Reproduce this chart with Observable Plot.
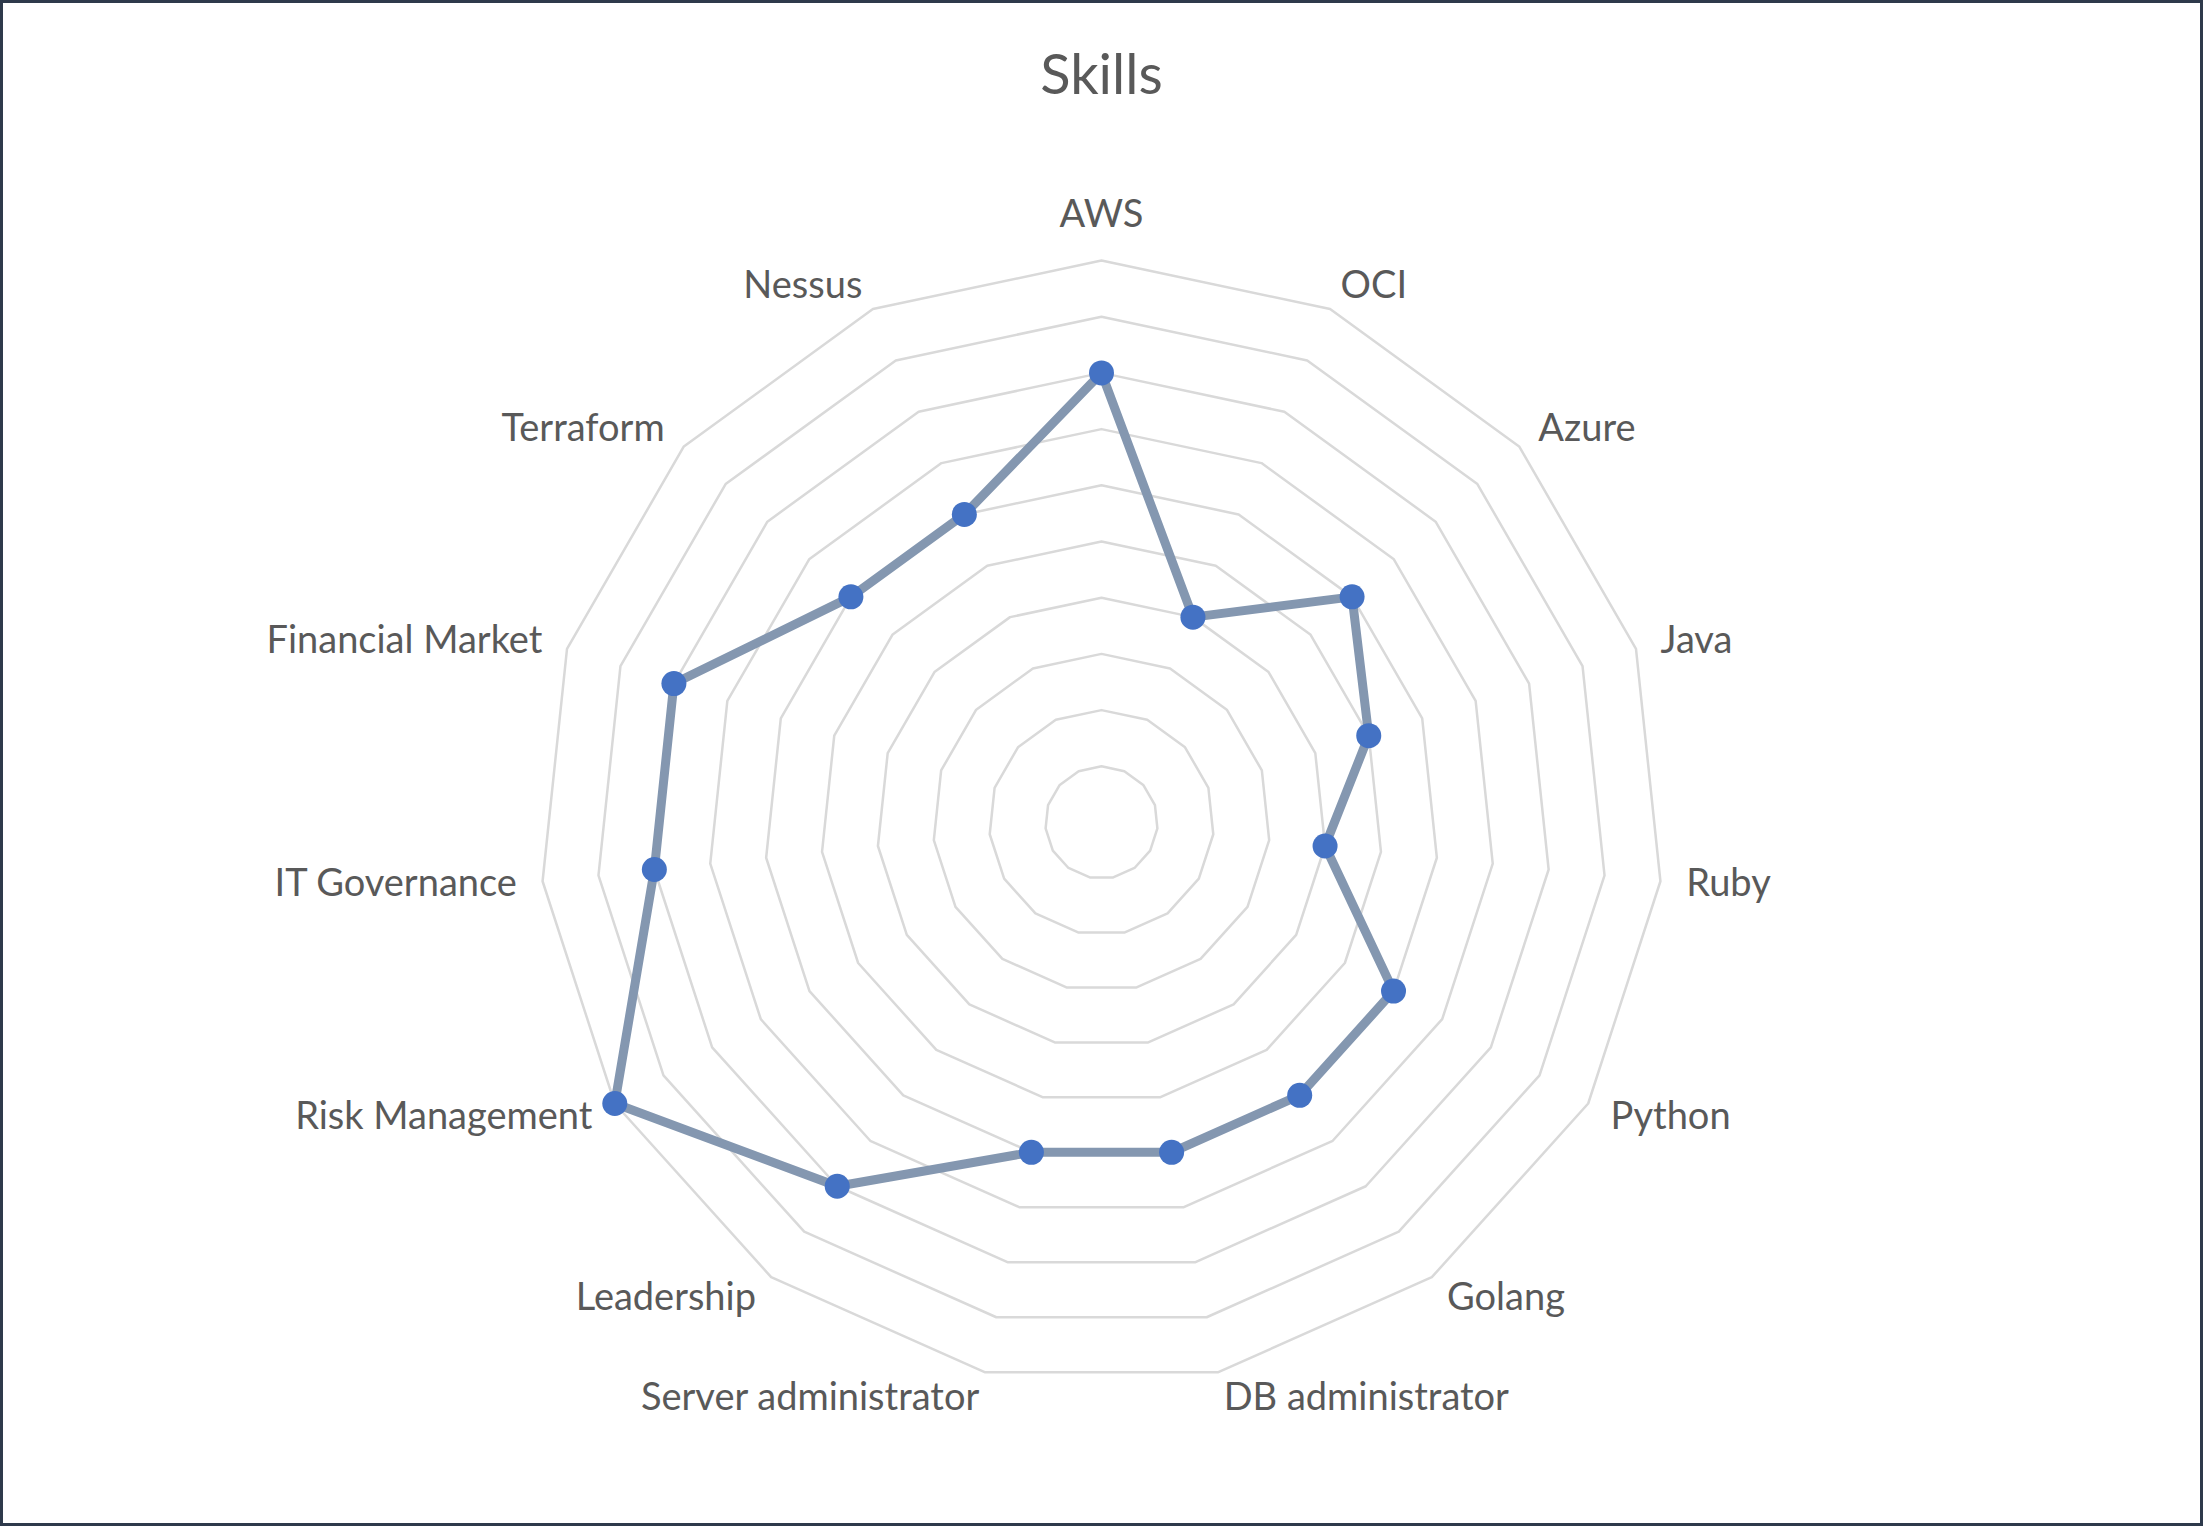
<!DOCTYPE html>
<html>
<head>
<meta charset="utf-8">
<script src="https://cdn.jsdelivr.net/npm/d3@7"></script>
<script src="https://cdn.jsdelivr.net/npm/@observablehq/plot@0.6"></script>
<style>
  html, body { margin: 0; padding: 0; background: #fff; }
  #frame {
    width: 2203px; height: 1526px; box-sizing: border-box;
    border: 3px solid #2E3A4B; background: #fff; overflow: hidden;
  }
  #title {
    height: 120px; box-sizing: border-box; padding-top: 42px;
    font-family: Lato, "Open Sans", sans-serif; font-size: 56px; line-height: 1;
    color: #595959; text-align: center;
  }
  #chart svg { display: block; }
</style>
</head>
<body>
<div id="frame">
  <div id="title">Skills</div>
  <div id="chart"></div>
</div>
<script>
// ---- data ----
const categories = ["AWS", "OCI", "Azure", "Java", "Ruby", "Python", "Golang",
  "DB administrator", "Server administrator", "Leadership", "Risk Management",
  "IT Governance", "Financial Market", "Terraform", "Nessus"];
const values = [8, 4, 6, 5, 4, 6, 6, 6, 6, 8, 10, 8, 8, 6, 6];
const ringLevels = [1, 2, 3, 4, 5, 6, 7, 8, 9, 10];
const maxValue = 10;

// ---- layout ----
const W = 2197, H = 1400;     // svg size
const CX = 1098, CY = 699;    // chart centre in svg pixels
const R = 562;                // outer ring radius in px
const k = R / maxValue;       // px per unit
const labelR = 10.46;         // label radius in data units

const n = categories.length;
const angle = i => (2 * Math.PI * i) / n;
const px = (r, i) => r * Math.sin(angle(i));
const py = (r, i) => r * Math.cos(angle(i));

const rings = ringLevels.flatMap(level =>
  categories.map((c, i) => ({level, x: px(level, i), y: py(level, i)})));
const series = categories.map((c, i) => ({category: c, value: values[i], x: px(values[i], i), y: py(values[i], i)}));
const labels = categories.map((c, i) => {
  const s = Math.sin(angle(i)), co = Math.cos(angle(i));
  return {
    text: c, x: px(labelR, i), y: py(labelR, i),
    anchor: s > 0.01 ? "start" : s < -0.01 ? "end" : "middle",
    line: (Math.abs(s) <= 0.01 && co > 0) ? "bottom" : "middle"
  };
});

const textOpts = {fill: "#595959", fontSize: 38, fontFamily: "Lato, 'Open Sans', sans-serif"};

const chart = Plot.plot({
  width: W, height: H, margin: 0,
  x: {domain: [-CX / k, (W - CX) / k], axis: null},
  y: {domain: [-(H - CY) / k, CY / k], axis: null},
  style: {fontFamily: "Lato, 'Open Sans', sans-serif", background: "transparent"},
  marks: [
    Plot.line(rings, {x: "x", y: "y", z: "level", curve: "linear-closed", stroke: "#D9D9D9", strokeWidth: 2.5}),
    Plot.line(series, {x: "x", y: "y", curve: "linear-closed", stroke: "#8497B0", strokeWidth: 9, strokeLinejoin: "round"}),
    Plot.dot(series, {x: "x", y: "y", r: 12.5, fill: "#4472C4", stroke: "none"}),
    Plot.text(labels.filter(d => d.line === "bottom"), {x: "x", y: "y", text: "text", textAnchor: "middle", lineAnchor: "bottom", dy: -8, ...textOpts}),
    Plot.text(labels.filter(d => d.line === "middle" && d.anchor === "start"), {x: "x", y: "y", text: "text", textAnchor: "start", lineAnchor: "middle", ...textOpts}),
    Plot.text(labels.filter(d => d.line === "middle" && d.anchor === "end"), {x: "x", y: "y", text: "text", textAnchor: "end", lineAnchor: "middle", ...textOpts}),
    Plot.text(labels.filter(d => d.line === "middle" && d.anchor === "middle"), {x: "x", y: "y", text: "text", textAnchor: "middle", lineAnchor: "middle", ...textOpts})
  ]
});
document.getElementById("chart").appendChild(chart);
</script>
</body>
</html>
